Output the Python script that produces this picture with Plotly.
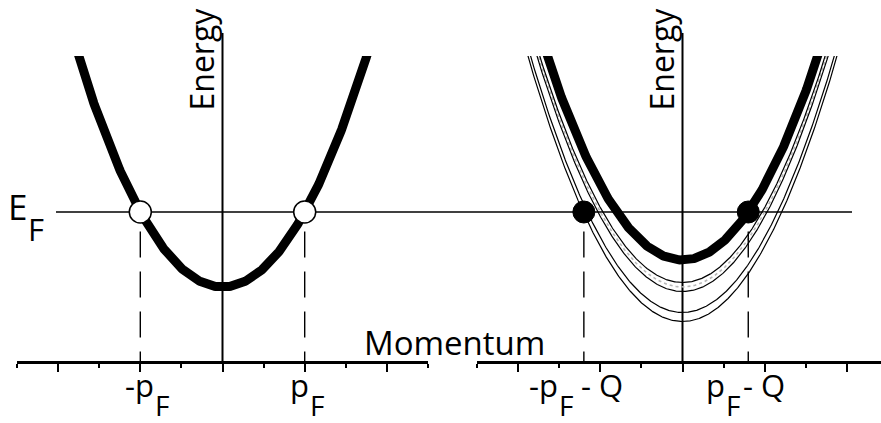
import numpy as np
import plotly.graph_objects as go

W, H = 881, 423

# Band parameters: momentum in units of p_F, energy in units of E_F
p_fermi = 1.0
nesting_q = 0.2
e_fermi = 1.0
curvature = 0.5
bare_band_bottom = 0.5                      # left panel, single band
renorm_band_bottom = 0.68                   # right panel, thick band
shadow_band_bottoms = [0.53, 0.47, 0.33, 0.27]
faint_band_bottoms = [0.50]

# Momentum-axis tick marks
major_ticks = [-2, -1, 0, 1, 2]
minor_ticks = [-2.5, -1.5, -0.5, 0.5, 1.5, 2.5]

left_points = [-p_fermi, p_fermi]
right_points = [-p_fermi - nesting_q, p_fermi - nesting_q]

FONT = "Open Sans"
PX_X = (428 - 17) / 5.0          # pixels per momentum unit
AXIS_Y = 362                     # pixel row of the momentum axes


def band(e0, e_max=2.3, n=401):
    pmax = np.sqrt((e_max - e0) / curvature)
    p = np.linspace(-pmax, pmax, n)
    return p, e0 + curvature * p ** 2


def py(px):
    return 1 - px / H


fig = go.Figure()

# ---- left panel: free-electron parabola
p, e = band(bare_band_bottom)
fig.add_trace(go.Scatter(x=p, y=e, xaxis="x", yaxis="y", mode="lines",
                         line=dict(color="black", width=9)))
for xp in left_points:
    fig.add_trace(go.Scatter(x=[xp, xp], y=[0.87, 0], xaxis="x", yaxis="y",
                             mode="lines",
                             line=dict(color="black", width=1.4, dash="26px,14px")))
fig.add_trace(go.Scatter(x=left_points, y=[e_fermi] * 2, xaxis="x", yaxis="y",
                         mode="markers",
                         marker=dict(size=22, color="white",
                                     line=dict(color="black", width=1.5))))

# ---- right panel: renormalised band with shadow bands
for e0 in faint_band_bottoms:
    p, e = band(e0)
    fig.add_trace(go.Scatter(x=p, y=e, xaxis="x2", yaxis="y", mode="lines",
                             line=dict(color="#b8b8b8", width=1.6, dash="dot")))
for e0 in shadow_band_bottoms:
    p, e = band(e0)
    fig.add_trace(go.Scatter(x=p, y=e, xaxis="x2", yaxis="y", mode="lines",
                             line=dict(color="black", width=1.2)))
p, e = band(renorm_band_bottom)
fig.add_trace(go.Scatter(x=p, y=e, xaxis="x2", yaxis="y", mode="lines",
                         line=dict(color="black", width=9)))
for xp in right_points:
    fig.add_trace(go.Scatter(x=[xp, xp], y=[0.87, 0], xaxis="x2", yaxis="y",
                             mode="lines",
                             line=dict(color="black", width=1.4, dash="26px,14px")))
fig.add_trace(go.Scatter(x=right_points, y=[e_fermi] * 2, xaxis="x2", yaxis="y",
                         mode="markers",
                         marker=dict(size=22, color="black",
                                     line=dict(color="black", width=1))))

# ---- Fermi level and energy axes
shapes = [dict(type="line", xref="paper", yref="y", x0=56 / W, x1=852 / W,
               y0=e_fermi, y1=e_fermi, line=dict(color="black", width=1.7),
               layer="below")]
for xr in ("x", "x2"):
    shapes.append(dict(type="line", xref=xr, yref="paper", x0=0, x1=0,
                       y0=py(AXIS_Y + 1), y1=py(33),
                       line=dict(color="black", width=2), layer="below"))

annotations = []


def text(xref, x, s, xshift, ypx, size, anchor="left", angle=0):
    annotations.append(dict(xref=xref, yref="paper", x=x, y=py(ypx), text=s,
                            xshift=xshift, xanchor=anchor, yanchor="middle",
                            textangle=angle, showarrow=False, borderpad=0,
                            font=dict(family=FONT, size=size, color="black")))


MAIN_Y, SUB_Y = 385, 405
MAIN_SIZE, SUB_SIZE = 31, 28
# momentum labels built from a main part and a lowered subscript
text("x", left_points[0], "-p", -16, MAIN_Y, MAIN_SIZE)
text("x", left_points[0], "F", 14, SUB_Y, SUB_SIZE)
text("x", left_points[1], "p", -16, MAIN_Y, MAIN_SIZE)
text("x", left_points[1], "F", 4, SUB_Y, SUB_SIZE)
text("x2", right_points[0], "-p", -56, MAIN_Y, MAIN_SIZE)
text("x2", right_points[0], "F", -26, SUB_Y, SUB_SIZE)
text("x2", right_points[0], "- Q", -4, MAIN_Y, MAIN_SIZE)
text("x2", right_points[1], "p", -43, MAIN_Y, MAIN_SIZE)
text("x2", right_points[1], "F", -23, SUB_Y, SUB_SIZE)
text("x2", right_points[1], "- Q", -6, MAIN_Y, MAIN_SIZE)

# Fermi-level label
annotations.append(dict(xref="paper", yref="paper", x=7 / W, y=py(206), text="E",
                        xanchor="left", yanchor="middle", showarrow=False,
                        borderpad=0,
                        font=dict(family=FONT, size=35, color="black")))
annotations.append(dict(xref="paper", yref="paper", x=27 / W, y=py(229), text="F",
                        xanchor="left", yanchor="middle", showarrow=False,
                        borderpad=0,
                        font=dict(family=FONT, size=31, color="black")))

# axis titles
for xr in ("x", "x2"):
    text(xr, 0, "Energy", -21, 59, 32, anchor="center", angle=-90)
annotations.append(dict(xref="paper", yref="paper", x=454 / W, y=py(342),
                        text="Momentum", xanchor="center", yanchor="middle",
                        showarrow=False, borderpad=0,
                        font=dict(family=FONT, size=33, color="black")))

xaxis_common = dict(range=[-2.5, 2.5], anchor="free", position=py(AXIS_Y),
                    showline=True, linecolor="black", linewidth=2.5,
                    ticks="outside", tickmode="array", tickvals=major_ticks,
                    ticklen=8, tickwidth=2, tickcolor="black",
                    minor=dict(tickmode="array", tickvals=minor_ticks,
                               ticks="outside", ticklen=4, tickwidth=1.6,
                               tickcolor="black", showgrid=False),
                    showticklabels=False, showgrid=False, zeroline=False,
                    fixedrange=True)

right_max = -2.5 + (W - 477) / PX_X

fig.update_layout(
    width=W, height=H,
    margin=dict(l=0, r=0, t=0, b=0),
    paper_bgcolor="white", plot_bgcolor="white",
    showlegend=False,
    xaxis=dict(xaxis_common, domain=[17 / W, 428 / W]),
    xaxis2=dict(xaxis_common, domain=[477 / W, 1.0], range=[-2.5, right_max]),
    yaxis=dict(domain=[0, py(56)],
               range=[(AXIS_Y - H) / 150.0, (AXIS_Y - 56) / 150.0],
               visible=False, fixedrange=True),
    shapes=shapes,
    annotations=annotations,
)

fig.write_html("out.html")
